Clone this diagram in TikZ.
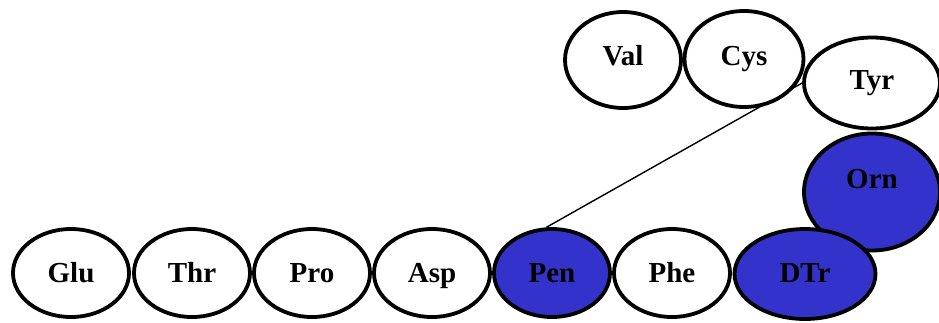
\documentclass[tikz,border=0pt]{standalone}
\usepackage{fontspec}
\setmainfont{Liberation Serif}
\usetikzlibrary{shapes.geometric}
\pgfdeclarelayer{background}
\pgfsetlayers{background,main}
\definecolor{resblue}{RGB}{51,51,204}
% the baseline of each name sits half of (text height - text depth) below the centre
\tikzset{
  residue/.style={ellipse, draw=black, line width=3.8pt, fill=white,
    minimum width=116pt, minimum height=88pt, inner sep=0pt,
    font=\fontsize{29}{29}\selectfont\bfseries, text height=18pt, text depth=0pt},
  marked/.style={residue, fill=resblue},
  bond/.style={line width=1.4pt, draw=black}
}
\begin{document}
\begin{tikzpicture}[x=1pt, y=-1pt]
  \useasboundingbox (0,0) rectangle (939,322);
  \clip (0,0) rectangle (939,322);
  % right column (drawn first so the chain lies over it)
  \node[marked, minimum width=136pt, minimum height=117pt,
        text height=0pt, text depth=8pt] (orn) at (872,192) {Orn};
  \node[residue, minimum width=136pt, minimum height=91pt,
        text height=12pt] (tyr) at (872,83) {Tyr};
  % lower chain
  \node[residue] (glu) at (71,273) {Glu};
  \node[residue] (thr) at (192,273) {Thr};
  \node[residue] (pro) at (312,273) {Pro};
  \node[residue] (asp) at (432,273) {Asp};
  \node[marked] (pen) at (552,273) {Pen};
  \node[residue] (phe) at (672,273) {Phe};
  \node[marked, minimum width=141pt, minimum height=90pt,
        text height=16pt] (dtr) at (805,274) {DTr};
  % upper pair
  \node[residue, minimum width=116pt, minimum height=96pt,
        text height=10pt] (val) at (623,60) {Val};
  \node[residue, minimum width=119pt, minimum height=96pt,
        text height=12pt] (cys) at (744,59) {Cys};
  % cross link, passing behind Cys
  \begin{pgfonlayer}{background}
    \draw[bond] (pen.97) -- (tyr.west);
  \end{pgfonlayer}
\end{tikzpicture}
\end{document}
